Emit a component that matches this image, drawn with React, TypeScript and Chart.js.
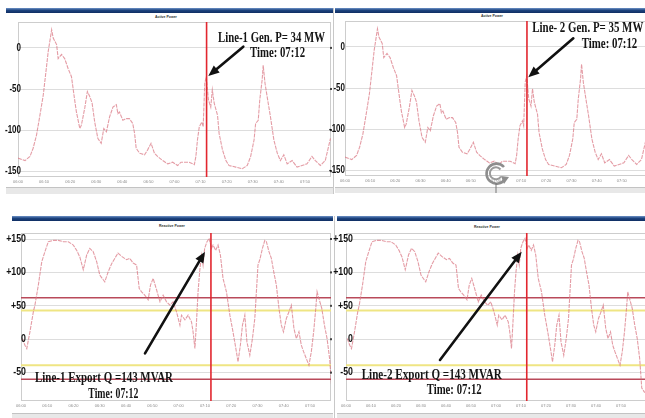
import React, { useEffect, useRef } from "react";
import { Chart, registerables } from "chart.js";

Chart.register(...registerables);

// Time axis: minutes after 06:00
const activeTimes = [0, 2.7, 4.6, 5.8, 7.1, 8.4, 9.7, 11, 11.6, 12.9,
  13.5, 14.8, 15.4, 16.7, 17.9, 19.2, 20.5, 21.8, 22.4, 23.7,
  24.3, 25.6, 26.6, 27.5, 28.4, 29.4, 30.6, 31.9, 32.9, 33.9,
  35.1, 36.4, 37.7, 38.3, 38.9, 40.2, 41.5, 42.7, 44, 44.7,
  45.3, 46.6, 48.5, 49.7, 51, 52.3, 53.5, 55.5, 57.4, 59.3,
  61.2, 62.5, 65.6, 67.6, 68.2, 68.8, 69.5, 70.5, 71, 71.6,
  72.2, 73, 73.9, 74.5, 75.2, 76.5, 77.1, 78.4, 79.7, 80.9,
  83.5, 86, 87.9, 89.2, 90.5, 91.1, 92.1, 92.7, 93.6, 94,
  94.7, 95.5, 96.8, 98.1, 99.4, 100.6, 101.9, 103.2, 105.1, 107,
  108.9, 110.8, 112.7, 114, 115.9, 117.8, 119.8];

const activePowerLine1 = [-134, -137, -132, -122, -106, -82, -57, -21, -4, 22,
  12, 4, -13, -8, -13, -25, -35, -65, -78, -98,
  -94, -73, -53, -59, -67, -90, -110, -116, -98, -102,
  -84, -72, -69, -80, -78, -88, -86, -86, -92, -104,
  -122, -128, -130, -124, -116, -128, -132, -137, -141, -139,
  -143, -139, -139, -142, -132, -112, -96, -90, -96, -43,
  -35, -63, -72, -51, -67, -82, -104, -124, -137, -143,
  -145, -147, -143, -132, -112, -92, -88, -63, -39, -21,
  -43, -59, -84, -112, -128, -137, -130, -141, -137, -145,
  -143, -141, -132, -137, -143, -137, -110];

const activePowerLine2 = [-134, -137, -132, -122, -106, -82, -57, -21, -4, 22,
  12, 4, -13, -8, -13, -25, -35, -65, -78, -98,
  -94, -73, -53, -59, -67, -90, -110, -116, -98, -102,
  -84, -72, -69, -80, -78, -88, -86, -86, -92, -104,
  -122, -128, -130, -124, -116, -128, -132, -137, -141, -139,
  -143, -139, -139, -142, -132, -112, -96, -90, -96, -43,
  -35, -63, -72, -51, -67, -82, -104, -124, -137, -143,
  -145, -147, -143, -132, -112, -92, -88, -63, -39, -21,
  -43, -59, -84, -112, -128, -137, -130, -141, -137, -145,
  -143, -141, -132, -137, -143, -137, -110];

const reactiveTimes = [0.5, 1.5, 2.2, 3.4, 4.7, 5.3, 6.6, 7.9, 9.1, 10.4,
  12.3, 14.2, 16.1, 18, 19.9, 21.2, 22.4, 23.7, 24.3, 25,
  26.2, 27.5, 28.8, 30, 31.3, 31.9, 33.2, 34.5, 36.9, 38.3,
  40.2, 41.4, 42.7, 44, 45, 45.9, 47.1, 48.4, 49.3, 50.3,
  51.6, 52.9, 54.1, 55.4, 56.7, 57.9, 59.2, 60.5, 61.1, 62.4,
  63.6, 64.9, 65.5, 66.2, 66.8, 67.4, 68, 68.7, 69.3, 69.9,
  70.8, 71.6, 72.5, 73.1, 74.1, 75, 75.9, 76.9, 78.2, 79.5,
  80.7, 82, 82.6, 83.5, 84.3, 85.2, 86, 87.1, 88.1, 89,
  89.6, 90.2, 90.9, 91.9, 92.8, 93.4, 94.4, 95.3, 96.2, 97.2,
  98.2, 99.1, 99.9, 101, 102, 102.9, 103.9, 104.8, 105.8, 106.7,
  107.6, 108.6, 109.6, 110.5, 111.4, 112.2, 112.7, 113.4, 114.5, 115.5,
  116.5, 117.5, 118.3, 119.5];

const reactivePowerLine1 = [1, -9, -14, 11, 41, 51, 81, 116, 131, 146,
  148, 148, 146, 146, 141, 133, 123, 104, 114, 126,
  136, 131, 116, 96, 89, 86, 101, 113, 129, 124,
  119, 121, 114, 111, 76, 71, 66, 59, 81, 91,
  74, 56, 66, 56, 51, 56, 41, 21, 36, 29,
  36, 26, 11, -14, 26, 71, 101, 126, 111, 136,
  146, 151, 136, 141, 133, 141, 126, 91, 71, 36,
  11, -19, -34, -9, 21, 36, -4, -24, 1, 31,
  71, 111, 119, 136, 148, 146, 131, 121, 101, 81,
  46, 21, 11, 31, 41, 51, 16, 1, 11, -9,
  -19, -29, -39, -19, 11, 46, 71, 61, 46, 21,
  1, -30, -73, -80];

const reactivePowerLine2 = [1, -9, -14, 11, 41, 51, 81, 116, 131, 146,
  148, 148, 146, 146, 141, 133, 123, 104, 114, 126,
  136, 131, 116, 96, 89, 86, 101, 113, 129, 124,
  119, 121, 114, 111, 76, 71, 66, 59, 81, 91,
  74, 56, 66, 56, 51, 56, 41, 21, 36, 29,
  36, 26, 11, -14, 26, 71, 101, 126, 111, 136,
  146, 151, 136, 141, 133, 141, 126, 91, 71, 36,
  11, -19, -34, -9, 21, 36, -4, -24, 1, 31,
  71, 111, 119, 136, 148, 146, 131, 121, 101, 81,
  46, 21, 11, 31, 41, 51, 16, 1, 11, -9,
  -19, -29, -39, -19, 11, 46, 71, 61, 46, 21,
  1, -30, -73, -80];

const timeTickValues = [0, 10, 20, 30, 40, 50, 60, 70, 80, 90, 100, 110];
const timeTickLabels = ["06:00", "06:10", "06:20", "06:30", "06:40", "06:50",
  "07:00", "07:10", "07:20", "07:30", "07:40", "07:50"];

const activeYTicks = [0, -50, -100, -150];
const activeYTickLabels = ["0", "-50", "-100", "-150"];
const reactiveYTicks = [150, 100, 50, 0, -50];
const reactiveYTickLabels = ["+150", "+100", "+50", "0", "-50"];

const eventTime = 72.3; // 07:12
const reactiveRedLimits = [62, -60];
const reactiveYellowLimits = [43, -39];

type Box = { x: number; y: number; w: number; h: number };
type Area = { l: number; t: number; r: number; b: number };
type TextSpec = { text: string; x: number; y: number; w: number; size: number };

type PanelSpec = {
  id: string;
  canvas: Box;
  area: Area;
  times: number[];
  values: number[];
  xMax: number;
  yMin: number;
  yMax: number;
  yTicks: number[];
  yLabels: string[];
  labelDx: number;
  labelScale: number;
  limits: { value: number; color: string; width: number }[];
  texts: TextSpec[];
  arrow: { x1: number; y1: number; x2: number; y2: number };
};

const RED_LIMIT = "#b94a5a";
const YELLOW_LIMIT = "#efe583";

const panels: PanelSpec[] = [
  {
    id: "tl",
    canvas: { x: 0, y: 14, w: 334, h: 176 },
    area: { l: 18, t: 22, r: 331, b: 177 },
    times: activeTimes,
    values: activePowerLine1,
    xMax: 120,
    yMin: -157,
    yMax: 31.5,
    yTicks: activeYTicks,
    yLabels: activeYTickLabels,
    labelDx: 3,
    labelScale: 0.8,
    limits: [],
    texts: [
      { text: "Line-1 Gen. P= 34 MW", x: 218, y: 41.7, w: 107, size: 14 },
      { text: "Time: 07:12", x: 250, y: 57.3, w: 55, size: 14 },
    ],
    arrow: { x1: 243.3, y1: 46.7, x2: 208.3, y2: 76 },
  },
  {
    id: "tr",
    canvas: { x: 329, y: 14, w: 321, h: 176 },
    area: { l: 345, t: 21, r: 647, b: 176 },
    times: activeTimes,
    values: activePowerLine2,
    xMax: 120,
    yMin: -157,
    yMax: 31.5,
    yTicks: activeYTicks,
    yLabels: activeYTickLabels,
    labelDx: 0,
    labelScale: 0.8,
    limits: [],
    texts: [
      { text: "Line- 2 Gen. P= 35 MW", x: 532.3, y: 32.3, w: 111, size: 14 },
      { text: "Time: 07:12", x: 581.7, y: 48.3, w: 55.6, size: 14 },
    ],
    arrow: { x1: 573.3, y1: 38.3, x2: 528.3, y2: 77.3 },
  },
  {
    id: "bl",
    canvas: { x: 0, y: 222, w: 334, h: 192 },
    area: { l: 21, t: 233, r: 331, b: 401 },
    times: reactiveTimes,
    values: reactivePowerLine1,
    xMax: 118,
    yMin: -92.5,
    yMax: 159,
    yTicks: reactiveYTicks,
    yLabels: reactiveYTickLabels,
    labelDx: 5,
    labelScale: 0.88,
    limits: [
      { value: reactiveRedLimits[0], color: RED_LIMIT, width: 1.5 },
      { value: reactiveYellowLimits[0], color: YELLOW_LIMIT, width: 2 },
      { value: reactiveYellowLimits[1], color: YELLOW_LIMIT, width: 2 },
      { value: reactiveRedLimits[1], color: RED_LIMIT, width: 1.5 },
    ],
    texts: [
      { text: "Line-1 Export Q =143 MVAR", x: 35, y: 381.7, w: 138, size: 15 },
      { text: "Time: 07:12", x: 88.3, y: 397.7, w: 50, size: 15 },
    ],
    arrow: { x1: 145, y1: 353.3, x2: 205, y2: 251.7 },
  },
  {
    id: "br",
    canvas: { x: 329, y: 222, w: 321, h: 192 },
    area: { l: 346, t: 233, r: 646, b: 401 },
    times: reactiveTimes,
    values: reactivePowerLine2,
    xMax: 120,
    yMin: -92.5,
    yMax: 159,
    yTicks: reactiveYTicks,
    yLabels: reactiveYTickLabels,
    labelDx: 7,
    labelScale: 0.88,
    limits: [
      { value: reactiveRedLimits[0], color: RED_LIMIT, width: 1.5 },
      { value: reactiveYellowLimits[0], color: YELLOW_LIMIT, width: 2 },
      { value: reactiveYellowLimits[1], color: YELLOW_LIMIT, width: 2 },
      { value: reactiveRedLimits[1], color: RED_LIMIT, width: 1.5 },
    ],
    texts: [
      { text: "Line-2 Export Q =143 MVAR", x: 361.7, y: 379, w: 140, size: 15 },
      { text: "Time: 07:12", x: 426.7, y: 394.3, w: 55, size: 15 },
    ],
    arrow: { x1: 440, y1: 360, x2: 521.7, y2: 251.7 },
  },
];

function PanelChart({ spec }: { spec: PanelSpec }) {
  const ref = useRef<HTMLCanvasElement | null>(null);

  useEffect(() => {
    const canvas = ref.current;
    if (!canvas) return;
    const c = spec.canvas;
    const a = spec.area;
    const yAxisW = a.l - c.x;
    const xAxisH = c.y + c.h - a.b;
    const padR = c.x + c.w - a.r;
    const padT = a.t - c.y;

    const decor = {
      id: "decor_" + spec.id,
      beforeDatasetsDraw(chart: any) {
        const { ctx, chartArea: ca } = chart;
        const y = chart.scales.y;
        ctx.save();
        ctx.strokeStyle = "#cdcdcd";
        ctx.lineWidth = 1;
        ctx.strokeRect(ca.left + 0.5, ca.top + 0.5, ca.right - ca.left - 1, ca.bottom - ca.top - 1);
        spec.limits.forEach((l) => {
          const py = y.getPixelForValue(l.value);
          ctx.strokeStyle = l.color;
          ctx.lineWidth = l.width;
          ctx.beginPath();
          ctx.moveTo(ca.left, py);
          ctx.lineTo(ca.right, py);
          ctx.stroke();
        });
        ctx.restore();
      },
      afterDatasetsDraw(chart: any) {
        const { ctx, chartArea: ca } = chart;
        const x = chart.scales.x;
        const y = chart.scales.y;
        ctx.save();
        // event marker line
        const mx = x.getPixelForValue(eventTime);
        ctx.strokeStyle = "#e2262f";
        ctx.lineWidth = 1.6;
        ctx.beginPath();
        ctx.moveTo(mx, ca.top);
        ctx.lineTo(mx, ca.bottom);
        ctx.stroke();
        // small marks on right edge
        ctx.fillStyle = "#444";
        spec.yTicks.forEach((v) => {
          const py = y.getPixelForValue(v);
          ctx.fillRect(ca.right - 1, py - 1, 2, 2);
        });
        // y labels
        ctx.fillStyle = "#111";
        ctx.font = 'bold 10px "Liberation Sans", Arial, sans-serif';
        ctx.textBaseline = "middle";
        ctx.textAlign = "right";
        spec.yTicks.forEach((v, i) => {
          const py = y.getPixelForValue(v);
          ctx.save();
          ctx.translate(ca.left + spec.labelDx, py);
          ctx.scale(spec.labelScale, 1);
          ctx.fillText(spec.yLabels[i], 0, 0);
          ctx.restore();
        });
        // arrow
        const ox = c.x;
        const oy = c.y;
        const ar = spec.arrow;
        const ax1 = ar.x1 - ox, ay1 = ar.y1 - oy, ax2 = ar.x2 - ox, ay2 = ar.y2 - oy;
        const ang = Math.atan2(ay2 - ay1, ax2 - ax1);
        const hl = 11, hw = 4.6;
        const bx = ax2 - hl * Math.cos(ang);
        const by = ay2 - hl * Math.sin(ang);
        ctx.strokeStyle = "#111";
        ctx.lineWidth = 2.6;
        ctx.lineCap = "round";
        ctx.beginPath();
        ctx.moveTo(ax1, ay1);
        ctx.lineTo(bx, by);
        ctx.stroke();
        ctx.fillStyle = "#111";
        ctx.beginPath();
        ctx.moveTo(ax2, ay2);
        ctx.lineTo(bx + hw * Math.sin(ang), by - hw * Math.cos(ang));
        ctx.lineTo(bx - hw * Math.sin(ang), by + hw * Math.cos(ang));
        ctx.closePath();
        ctx.fill();
        // texts
        spec.texts.forEach((t) => {
          ctx.font = `bold ${t.size}px "Liberation Serif", "Times New Roman", serif`;
          ctx.textAlign = "left";
          ctx.textBaseline = "alphabetic";
          const w0 = ctx.measureText(t.text).width;
          ctx.save();
          ctx.translate(t.x - ox, t.y - oy);
          ctx.scale(t.w / w0, 1);
          ctx.fillStyle = "#151515";
          ctx.fillText(t.text, 0, 0);
          ctx.restore();
        });
        ctx.restore();
      },
    };

    const chart = new Chart(canvas, {
      type: "line",
      data: {
        datasets: [
          {
            data: spec.times.map((t, i) => ({ x: t, y: spec.values[i] })),
            borderColor: "rgba(218,118,130,0.72)",
            borderWidth: 1.1,
            borderDash: [4, 1],
            pointRadius: 0,
            tension: 0,
            fill: false,
          },
        ],
      },
      options: {
        responsive: false,
        animation: false,
        events: [],
        layout: { padding: { left: 0, right: padR, top: padT, bottom: 0 } },
        plugins: { legend: { display: false }, tooltip: { enabled: false }, title: { display: false } },
        scales: {
          x: {
            type: "linear",
            min: 0,
            max: spec.xMax,
            afterBuildTicks: (s: any) => {
              s.ticks = timeTickValues.map((v) => ({ value: v }));
            },
            afterFit: (s: any) => {
              s.height = xAxisH;
            },
            ticks: {
              autoSkip: false,
              maxRotation: 0,
              padding: 2,
              color: "#8a8a8a",
              font: { size: 4, family: "Arial, sans-serif" },
              callback: (v: any) => timeTickLabels[timeTickValues.indexOf(Number(v))] ?? "",
            },
            grid: { display: false, drawTicks: false },
            border: { display: false },
          },
          y: {
            type: "linear",
            min: spec.yMin,
            max: spec.yMax,
            afterBuildTicks: (s: any) => {
              s.ticks = spec.yTicks.map((v) => ({ value: v }));
            },
            afterFit: (s: any) => {
              s.width = yAxisW;
            },
            ticks: { display: false },
            grid: { color: "#dddddd", lineWidth: 1, drawTicks: false },
            border: { display: false },
          },
        },
      },
      plugins: [decor],
    } as any);
    return () => chart.destroy();
  }, [spec]);

  return (
    <canvas
      ref={ref}
      width={spec.canvas.w}
      height={spec.canvas.h}
      style={{
        position: "absolute",
        left: spec.canvas.x,
        top: spec.canvas.y,
        width: spec.canvas.w,
        height: spec.canvas.h,
      }}
    />
  );
}

const headerStyle = (left: number, top: number, width: number): React.CSSProperties => ({
  position: "absolute",
  left,
  top,
  width,
  height: 5,
  background: "linear-gradient(#6f93c8, #1d447f 45%, #0f2d62)",
});

const statusStyle = (left: number, top: number, width: number, height: number): React.CSSProperties => ({
  position: "absolute",
  left,
  top,
  width,
  height,
  background: "#e8e8e8",
  borderTop: "1px solid #c3c3c3",
  boxSizing: "border-box",
});

const titleStyle = (cx: number, top: number): React.CSSProperties => ({
  position: "absolute",
  left: cx - 20,
  top,
  width: 40,
  textAlign: "center",
  font: "bold 3.5px Arial, sans-serif",
  color: "#333",
  lineHeight: "4px",
});

export default function App() {
  return (
    <div
      style={{
        position: "absolute",
        left: 0,
        top: 0,
        width: 645,
        height: 418,
        overflow: "hidden",
        background: "#ffffff",
      }}
    >
      {/* panel chrome */}
      <div style={headerStyle(6, 8, 327)} />
      <div style={headerStyle(335, 8, 310)} />
      <div style={headerStyle(12, 216, 321)} />
      <div style={headerStyle(337, 216, 308)} />
      <div style={statusStyle(6, 187, 327, 7)} />
      <div style={statusStyle(335, 187, 310, 6)} />
      <div style={statusStyle(12, 413, 321, 5)} />
      <div style={statusStyle(337, 413, 308, 5)} />
      <div style={{ position: "absolute", left: 333, top: 8, width: 1, height: 186, background: "#c8c8c8" }} />
      <div style={{ position: "absolute", left: 334, top: 216, width: 1, height: 202, background: "#c8c8c8" }} />
      <div style={titleStyle(166, 15)}>Active Power</div>
      <div style={titleStyle(492, 14)}>Active Power</div>
      <div style={titleStyle(172, 224)}>Reactive Power</div>
      <div style={titleStyle(487, 225)}>Reactive Power</div>

      {panels.map((p) => (
        <PanelChart key={p.id} spec={p} />
      ))}

      {/* refresh icon overlay */}
      <svg
        style={{ position: "absolute", left: 482, top: 159, overflow: "visible" }}
        width={28}
        height={36}
        viewBox="0 0 28 36"
      >
        <path d="M 22 8 A 10 10 0 1 0 23 20" fill="none" stroke="#8d8d8d" strokeWidth={2.6} />
        <path d="M 18.5 10.5 A 6 6 0 1 0 19 17.5" fill="none" stroke="#9a9a9a" strokeWidth={2} />
        <path d="M 19 17 L 27 18 L 22 25 Z" fill="#8d8d8d" />
        <line x1={14} y1={24} x2={14} y2={34} stroke="#777" strokeWidth={1} />
      </svg>
    </div>
  );
}
